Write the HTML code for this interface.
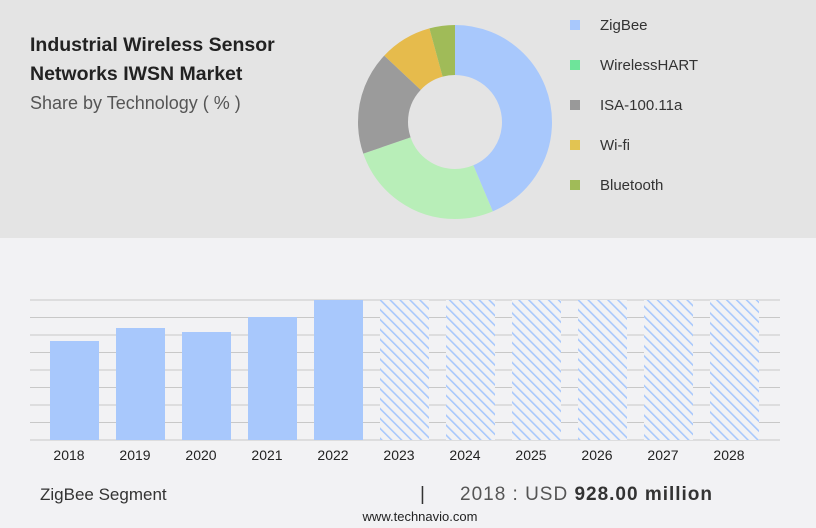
<!DOCTYPE html>
<html><head><style>
body{margin:0;width:816px;height:528px;background:#f2f2f4;font-family:"Liberation Sans",sans-serif;position:relative;overflow:hidden}
.top{position:absolute;left:0;top:0;width:816px;height:238px;background:#e4e4e4}
.t{position:absolute;color:#222}
</style></head><body>
<div class="top"></div>
<div class="t" style="left:30px;top:31px;font-weight:bold;font-size:19.5px;line-height:29px;color:#222">Industrial Wireless Sensor<br>Networks IWSN Market</div>
<div class="t" style="left:30px;top:93px;font-size:18px;color:#555">Share by Technology ( % )</div>
<svg width="816" height="528" style="position:absolute;left:0;top:0">
<g transform="rotate(-90 455 122)" fill="none" stroke-width="50">
<circle cx="455" cy="122" r="72" stroke="#a8c8fc" stroke-dasharray="197.3 452.4" stroke-dashoffset="0"/>
<circle cx="455" cy="122" r="72" stroke="#b8eeb8" stroke-dasharray="117.9 452.4" stroke-dashoffset="-197.3"/>
<circle cx="455" cy="122" r="72" stroke="#9b9b9b" stroke-dasharray="78.2 452.4" stroke-dashoffset="-315.2"/>
<circle cx="455" cy="122" r="72" stroke="#e6bb4c" stroke-dasharray="39.6 452.4" stroke-dashoffset="-393.4"/>
<circle cx="455" cy="122" r="72" stroke="#a0bb58" stroke-dasharray="19.5 452.4" stroke-dashoffset="-433"/>
</g>
<g font-size="15" fill="#333" font-family="Liberation Sans,sans-serif">
<rect x="570" y="20" width="10" height="10" fill="#a8c8fc"/><text x="600" y="30">ZigBee</text>
<rect x="570" y="60" width="10" height="10" fill="#6ee49a"/><text x="600" y="70">WirelessHART</text>
<rect x="570" y="100" width="10" height="10" fill="#999"/><text x="600" y="110">ISA-100.11a</text>
<rect x="570" y="140" width="10" height="10" fill="#e2c452"/><text x="600" y="150">Wi-fi</text>
<rect x="570" y="180" width="10" height="10" fill="#a0bb58"/><text x="600" y="190">Bluetooth</text>
</g>
<defs><pattern id="h" width="7" height="7" patternUnits="userSpaceOnUse" patternTransform="rotate(-45)"><rect width="7" height="7" fill="#f2f2f4"/><rect x="0" width="1.6" height="7" fill="#a8c8fc"/></pattern></defs>
<g stroke="#c8c8c8" stroke-width="1">
<line x1="30" x2="780" y1="300" y2="300"/><line x1="30" x2="780" y1="317.5" y2="317.5"/><line x1="30" x2="780" y1="335" y2="335"/><line x1="30" x2="780" y1="352.5" y2="352.5"/><line x1="30" x2="780" y1="370" y2="370"/><line x1="30" x2="780" y1="387.5" y2="387.5"/><line x1="30" x2="780" y1="405" y2="405"/><line x1="30" x2="780" y1="422.5" y2="422.5"/><line x1="30" x2="780" y1="440" y2="440"/>
</g>
<g fill="#a8c8fc">
<rect x="50" y="341" width="49" height="99"/><rect x="116" y="328" width="49" height="112"/><rect x="182" y="332" width="49" height="108"/><rect x="248" y="317" width="49" height="123"/><rect x="314" y="300" width="49" height="140"/>
</g>
<g fill="url(#h)">
<rect x="380" y="300" width="49" height="140"/><rect x="446" y="300" width="49" height="140"/><rect x="512" y="300" width="49" height="140"/><rect x="578" y="300" width="49" height="140"/><rect x="644" y="300" width="49" height="140"/><rect x="710" y="300" width="49" height="140"/>
</g>
<g font-size="14" fill="#222" text-anchor="middle" font-family="Liberation Sans,sans-serif">
<text x="69" y="460">2018</text><text x="135" y="460">2019</text><text x="201" y="460">2020</text><text x="267" y="460">2021</text><text x="333" y="460">2022</text><text x="399" y="460">2023</text><text x="465" y="460">2024</text><text x="531" y="460">2025</text><text x="597" y="460">2026</text><text x="663" y="460">2027</text><text x="729" y="460">2028</text>
</g>
<g font-family="Liberation Sans,sans-serif" fill="#333">
<text x="40" y="500" font-size="17">ZigBee Segment</text>
<text x="420" y="500" font-size="19">|</text>
<text x="460" y="500" font-size="19" fill="#555" textLength="252">2018 : USD <tspan font-weight="bold" fill="#333">928.00 million</tspan></text>
<text x="420" y="521" font-size="13" text-anchor="middle" fill="#222">www.technavio.com</text>
</g>
</svg>
</body></html>
